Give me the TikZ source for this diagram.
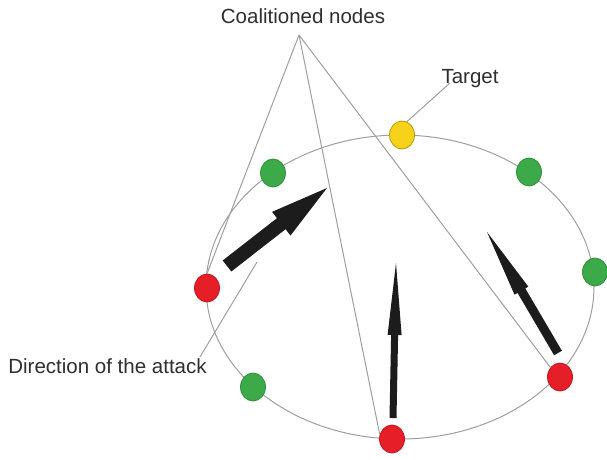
\documentclass[tikz,border=0pt]{standalone}
\usepackage{fontspec}
\setmainfont{Liberation Sans}
\usetikzlibrary{shapes.geometric,calc}
\definecolor{gline}{HTML}{9E9E9E}
\definecolor{txt}{HTML}{2E2E2E}
\definecolor{gfill}{HTML}{3DAA4A}
\definecolor{gdraw}{HTML}{2F8E3B}
\definecolor{rfill}{HTML}{E61E27}
\definecolor{rdraw}{HTML}{C2161D}
\definecolor{yfill}{HTML}{F6D31A}
\definecolor{ydraw}{HTML}{B6980F}
\definecolor{arr}{HTML}{1C1C1C}
\tikzset{
  nd/.style={ellipse, minimum width=25pt, minimum height=28pt, inner sep=0pt, line width=0.8pt},
  gn/.style={nd, fill=gfill, draw=gdraw},
  rn/.style={nd, fill=rfill, draw=rdraw},
  yn/.style={nd, fill=yfill, draw=ydraw},
  thin line/.style={draw=gline, line width=1pt},
  lbl/.style={text=txt, inner sep=0pt, font=\fontsize{20.5}{24}\selectfont},
}
% block arrow: #1 tail, #2 tip, #3 shaft half width, #4 head half width, #5 head length
\newcommand{\blockarrow}[5]{%
  \fill[arr] let \p1=($(#2)!#5!(#1)$) in
    ($(#1)!#3!90:(#2)$) -- ($(\p1)!#3!90:(#2)$) -- ($(\p1)!#4!90:(#2)$) -- (#2)
    -- ($(\p1)!#4!-90:(#2)$) -- ($(\p1)!#3!-90:(#2)$) -- ($(#1)!#3!-90:(#2)$) -- cycle;}
\begin{document}
\begin{tikzpicture}[x=1pt,y=-1pt]
\useasboundingbox (0,0) rectangle (607,459);
% ring
\draw[thin line] (400,287) ellipse [x radius=194pt, y radius=152pt];
% nodes
\node[yn] (tg) at (402,135) {};
\node[gn] (g1) at (273,173) {};
\node[gn] (g2) at (529,172) {};
\node[gn] (g3) at (595,272) {};
\node[rn] (rr) at (560,377) {};
\node[rn] (rb) at (392,439) {};
\node[gn] (g4) at (253,387) {};
\node[rn] (rl) at (207,288) {};
% labels
\node[lbl, anchor=base] (coal) at (303,23) {Coalitioned nodes};
\node[lbl, anchor=base] (tgt) at (470,83) {Target};
\node[lbl, anchor=base] (dir) at (107.5,373) {Direction of the attack};
\coordinate (apex) at (299,35);
\coordinate (tgend) at (450,83);
\coordinate (dirend) at (257,262);
\coordinate (dirstart) at (200,357);
% leader lines
\draw[thin line] (apex) -- (rl.north);
\draw[thin line] (apex) -- (rb.160);
\draw[thin line] (apex) -- (rr.135);
\draw[thin line] (tg.70) -- (tgend);
\draw[thin line] (dirstart) -- (dirend);
% arrows
\coordinate (a1t) at (227,266);
\coordinate (a1p) at (327,188);
\coordinate (a2t) at (393,418);
\coordinate (a2p) at (396,263);
\coordinate (a3t) at (558,353);
\coordinate (a3p) at (487,232);
\blockarrow{a1t}{a1p}{7pt}{15pt}{58pt}
\blockarrow{a2t}{a2p}{3.5pt}{7pt}{72pt}
\blockarrow{a3t}{a3p}{4.5pt}{8pt}{68pt}
\end{tikzpicture}
\end{document}
